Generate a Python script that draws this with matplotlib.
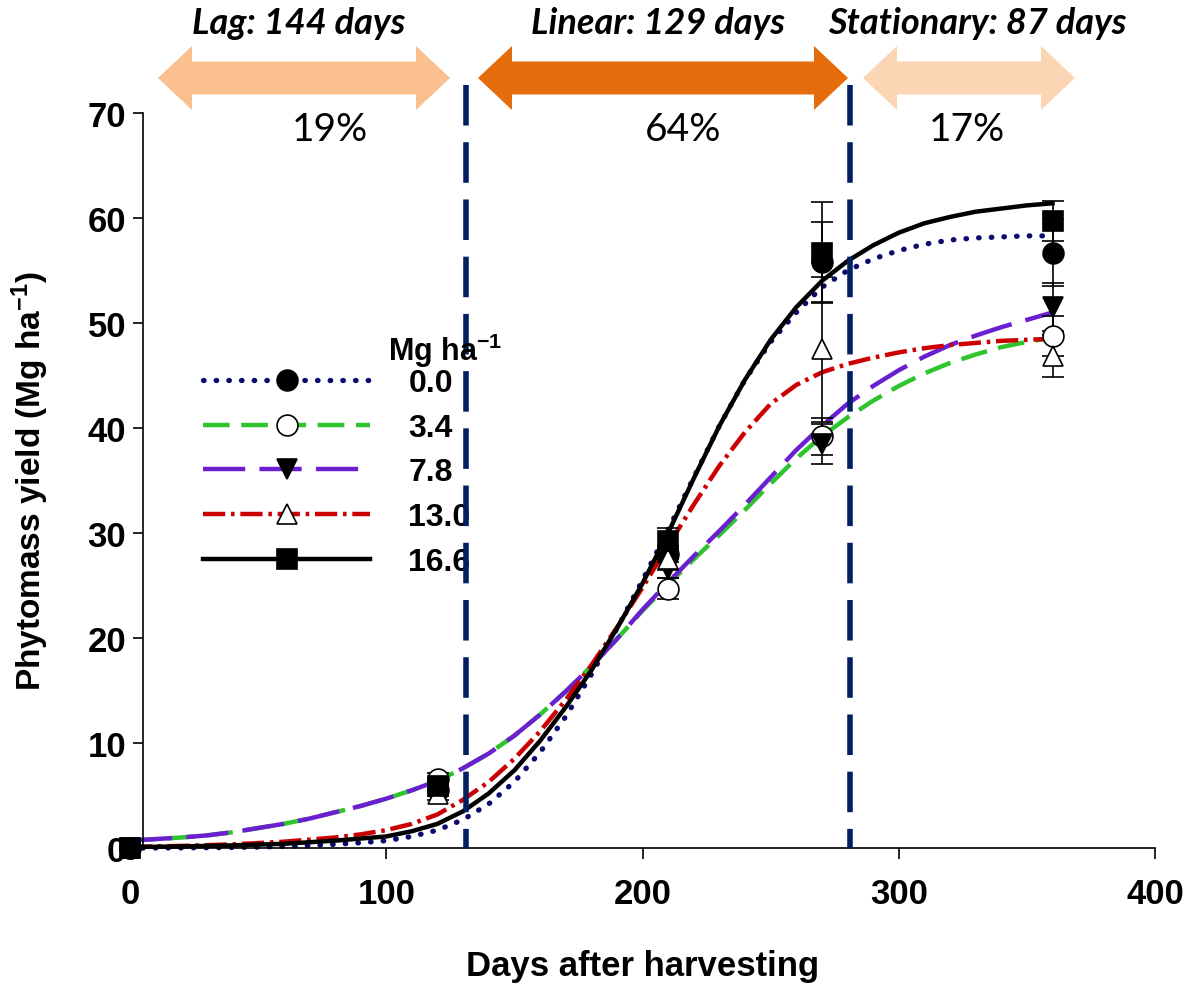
import numpy as np
import matplotlib.pyplot as plt
from matplotlib.lines import Line2D
from matplotlib.patches import Polygon

plt.rcParams['font.family'] = 'Liberation Sans'
plt.rcParams['font.weight'] = 'bold'
plt.rcParams['axes.labelweight'] = 'bold'
plt.rcParams['mathtext.fontset'] = 'custom'
plt.rcParams['mathtext.rm'] = 'Liberation Sans:bold'
plt.rcParams['mathtext.it'] = 'Liberation Sans:bold'
plt.rcParams['mathtext.bf'] = 'Liberation Sans:bold'

# fitted curves, every 10 days
days_fit = list(range(0, 361, 10))
fit_00 = [0.0, 0.0, 0.01, 0.03, 0.05, 0.09, 0.15, 0.23, 0.35, 0.5, 0.7, 1.1, 1.7, 2.7, 4.2,
          6.3, 9.1, 12.5, 16.5, 20.9, 25.5, 30.3, 35.3, 40.2, 44.6, 48.2, 51.0, 53.4, 55.0,
          56.1, 56.9, 57.5, 57.9, 58.1, 58.2, 58.3, 58.3]
fit_34 = [0.7, 0.85, 1.0, 1.2, 1.5, 1.9, 2.3, 2.8, 3.4, 4.0, 4.7, 5.5, 6.4, 7.6, 9.0,
          10.7, 12.7, 14.9, 17.3, 19.9, 22.6, 25.1, 27.5, 29.8, 32.2, 34.7, 37.1, 39.2, 41.0,
          42.6, 44.0, 45.2, 46.2, 47.0, 47.7, 48.2, 48.6]
fit_78 = [0.7, 0.85, 1.0, 1.2, 1.5, 1.9, 2.3, 2.8, 3.4, 4.0, 4.7, 5.5, 6.4, 7.6, 9.0,
          10.7, 12.7, 14.9, 17.3, 19.9, 22.7, 25.3, 27.8, 30.2, 32.7, 35.3, 37.9, 40.2, 42.3,
          44.0, 45.5, 46.8, 47.9, 48.8, 49.6, 50.3, 51.0]
fit_130 = [0.1, 0.15, 0.2, 0.27, 0.35, 0.47, 0.6, 0.8, 1.0, 1.3, 1.7, 2.3, 3.2, 4.6, 6.3,
           8.5, 11.1, 14.1, 17.4, 21.0, 24.8, 28.8, 32.7, 36.4, 39.6, 42.3, 44.1, 45.3, 46.1,
           46.7, 47.2, 47.6, 47.9, 48.1, 48.3, 48.4, 48.5]
fit_166 = [0.1, 0.12, 0.15, 0.2, 0.25, 0.32, 0.4, 0.55, 0.7, 0.9, 1.1, 1.6, 2.3, 3.5, 5.2,
           7.4, 10.2, 13.4, 16.9, 20.9, 25.2, 30.0, 35.2, 40.2, 44.6, 48.4, 51.5, 54.0, 55.9,
           57.4, 58.6, 59.5, 60.1, 60.6, 60.9, 61.2, 61.4]

# observed means and errors
days_obs = [0, 120, 210, 270, 360]
obs_00 = [0.0, 5.5, 28.0, 55.8, 56.7]
err_00 = [0.0, 0.5, 0.8, 3.8, 3.2]
obs_34 = [0.0, 6.6, 24.7, 39.2, 48.8]
err_34 = [0.0, 0.5, 1.0, 1.8, 1.9]
obs_78 = [0.0, 5.7, 26.6, 38.5, 51.5]
err_78 = [0.0, 0.5, 0.9, 1.9, 2.3]
obs_130 = [0.0, 5.1, 27.5, 47.5, 46.9]
err_130 = [0.0, 0.5, 1.0, 6.9, 2.0]
obs_166 = [0.0, 5.9, 29.2, 56.7, 59.7]
err_166 = [0.0, 0.5, 1.3, 4.8, 1.9]

doses = ['0.0', '3.4', '7.8', '13.0', '16.6']
phase_limits = [131, 281]
phase_names = ['Lag: 144 days', 'Linear: 129 days', 'Stationary: 87 days']
phase_share = ['19%', '64%', '17%']

W, H = 1186, 987
fig = plt.figure(figsize=(W / 100, H / 100), dpi=100)
ax = fig.add_axes([130 / W, 1 - 849 / H, 1025 / W, 735 / H])

styles = [
    dict(color='#0a0a6e', ls=(0, (0.1, 2.3)), cap='round', lw=3.8, marker='o', mfc='black', ms=15),
    dict(color='#2ec42e', ls=(0, (6.0, 2.6)), cap='butt', lw=3.2, marker='o', mfc='white', ms=15),
    dict(color='#6a1fd0', ls=(0, (9.5, 3.2)), cap='butt', lw=3.2, marker='v', mfc='black', ms=15),
    dict(color='#cc0000', ls=(0, (5.0, 1.3, 0.8, 1.3)), cap='butt', lw=3.2, marker='^', mfc='white', ms=15),
    dict(color='black', ls='-', cap='butt', lw=3.2, marker='s', mfc='black', ms=14),
]
fits = [fit_00, fit_34, fit_78, fit_130, fit_166]
obs = [obs_00, obs_34, obs_78, obs_130, obs_166]
errs = [err_00, err_34, err_78, err_130, err_166]

handles = []
for st, f in zip(styles, fits):
    ax.plot(days_fit, f, color=st['color'], ls=st['ls'], lw=st['lw'],
            dash_capstyle=st['cap'], clip_on=False, zorder=2)
for st, o, e in zip(styles, obs, errs):
    ax.errorbar(days_obs, o, yerr=e, fmt=st['marker'], mfc=st['mfc'], mec='black', mew=1.2,
                ms=st['ms'], ecolor='black', elinewidth=1.2, capsize=8, capthick=1.2,
                clip_on=False, zorder=3)
    handles.append(Line2D([], [], color=st['color'], ls=st['ls'], lw=st['lw'],
                          dash_capstyle=st['cap'],
                          marker=st['marker'], mfc=st['mfc'], mec='black', mew=1.2, ms=st['ms']))

for xl in phase_limits:
    ax.plot([xl, xl], [72.7, 0], color='#002060', lw=4, ls=(0, (7.3, 3.0)),
            clip_on=False, zorder=6)

ax.set_xlim(0, 400)
ax.set_ylim(0, 70)
ax.spines['top'].set_visible(False)
ax.spines['right'].set_visible(False)
ax.spines['left'].set_position(('data', 5))
ax.spines['bottom'].set_bounds(5, 400)
for s in ['left', 'bottom']:
    ax.spines[s].set_linewidth(1.2)
ax.set_xticks([0, 100, 200, 300, 400])
ax.set_yticks(range(0, 80, 10))
ax.tick_params(axis='both', direction='out', width=1.2, labelsize=25)
ax.tick_params(axis='x', length=8, pad=13)
ax.tick_params(axis='y', length=7, pad=5)
ax.set_xlabel('Days after harvesting', fontsize=25, fontweight='bold', labelpad=28)
ax.set_ylabel('Phytomass yield (Mg ha$^{-1}$)', fontsize=24, fontweight='bold', labelpad=26)

leg = ax.legend(handles, doses, loc='upper left', bbox_to_anchor=(203 / W, 1 - 369 / H),
                bbox_transform=fig.transFigure, frameon=False, borderpad=0, borderaxespad=0,
                handlelength=5.23, handletextpad=1.2, labelspacing=0.46, numpoints=1,
                prop=dict(family='Liberation Sans', weight='bold', size=23))
fig.text(388 / W, 1 - 351 / H, 'Mg ha$^{-1}$', fontsize=22, ha='left', va='center')

# phase arrows on top
arrow_spans = [(158, 450), (478, 848), (863, 1075)]
arrow_colors = ['#FAC090', '#E46C0A', '#FCD5B5']
yc, hh, hs, hl = 79, 32, 16.5, 34
for (x0, x1), c in zip(arrow_spans, arrow_colors):
    pts = [(x0, yc), (x0 + hl, yc - hh), (x0 + hl, yc - hs), (x1 - hl, yc - hs),
           (x1 - hl, yc - hh), (x1, yc), (x1 - hl, yc + hh), (x1 - hl, yc + hs),
           (x0 + hl, yc + hs), (x0 + hl, yc + hh)]
    pts = [(px / W, 1 - py / H) for px, py in pts]
    fig.patches.append(Polygon(pts, closed=True, fc=c, ec='none', transform=fig.transFigure))

for name, xc in zip(phase_names, [299, 658, 977]):
    fig.text(xc / W, 1 - 24 / H, name, family='Lato', weight='bold', style='italic',
             fontsize=26, ha='center', va='center')
for pct, xc in zip(phase_share, [330, 683, 967]):
    fig.text(xc / W, 1 - 130 / H, pct, family='Lato', weight='normal',
             fontsize=28, ha='center', va='center')

fig.savefig('out.png', dpi=100)
